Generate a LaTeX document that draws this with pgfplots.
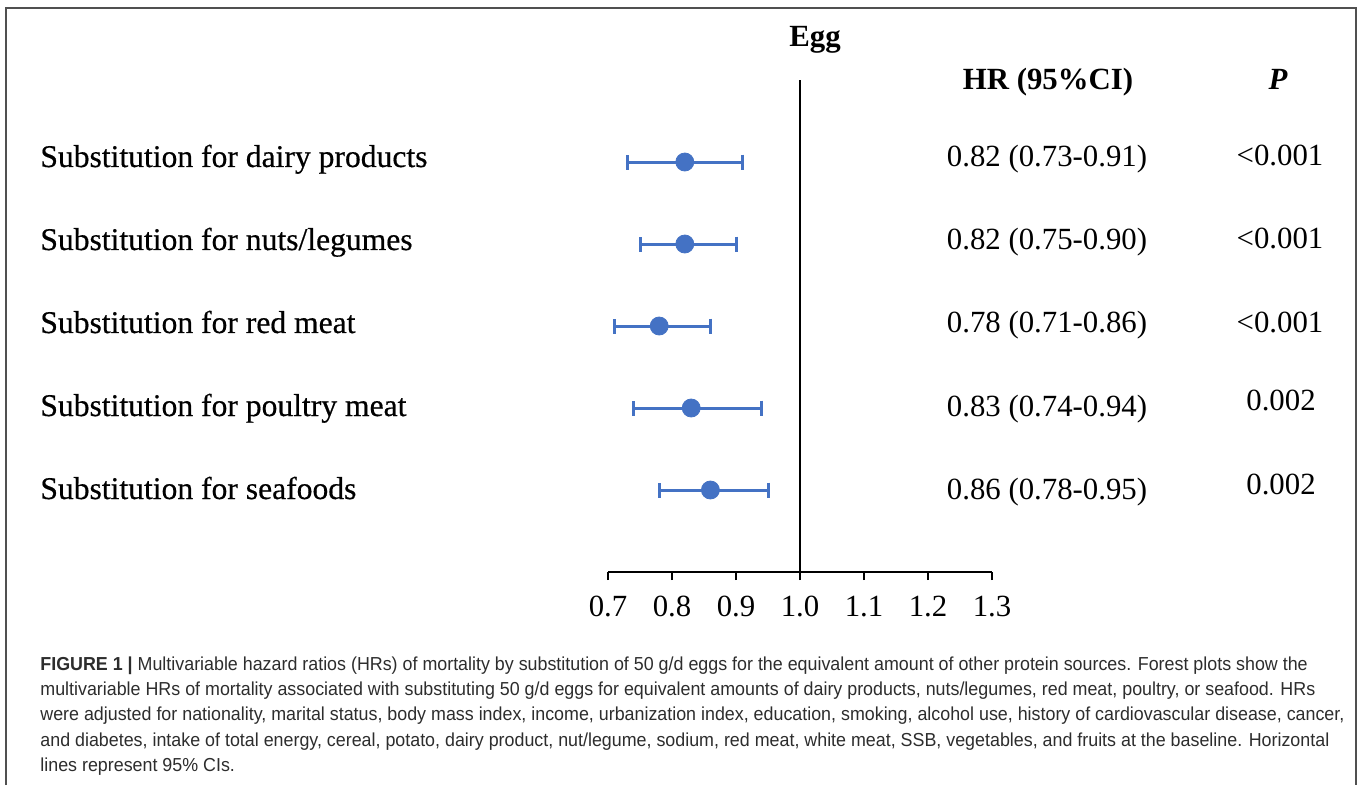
\documentclass[border=0pt]{standalone}
\usepackage{fontspec}
\setmainfont{Liberation Serif}
\newfontfamily\labfont[FakeBold=0.5]{Liberation Serif}
\newfontfamily\capfont[FakeStretch=0.95]{Liberation Sans}
\usepackage{pgfplots}
\pgfplotsset{compat=1.18}
\usepackage{pgfplotstable}
\definecolor{dotblue}{RGB}{68,114,196}
\definecolor{framegray}{RGB}{80,80,80}
\definecolor{capgray}{RGB}{45,45,45}

\pgfplotstableread{
row hr lo hi
5 0.82 0.73 0.91
4 0.82 0.75 0.90
3 0.78 0.71 0.86
2 0.83 0.74 0.94
1 0.86 0.78 0.95
}\hrdata

\newcommand{\fs}{\fontsize{15.4}{18}\selectfont}
\newcommand{\lfs}{\fontsize{15.8}{18}\selectfont}
\newcommand{\cfs}{\fontsize{9.4}{12}\selectfont}

\begin{document}
\begin{tikzpicture}[x=0.5pt,y=-0.5pt]
\path[fill=white] (0,0) rectangle (1360,785);
\draw[framegray, line width=1pt] (6,785) -- (6,8) -- (1356,8) -- (1356,785);

\begin{axis}[
  at={(304pt,-286pt)}, anchor=south west,
  scale only axis, width=192pt, height=246pt,
  xmin=0.7, xmax=1.3, ymin=0, ymax=6,
  clip=false,
  axis y line=none,
  axis x line*=bottom,
  axis line style={black, line width=1pt, -},
  xtick={0.7,0.8,0.9,1.0,1.1,1.2,1.3},
  ytick=\empty,
  tick align=outside,
  major tick length=4pt,
  tick style={black, line width=1pt},
  xticklabel style={font=\fs, yshift=-4.5pt},
  /pgf/number format/.cd, fixed, fixed zerofill, precision=1, assume math mode=true,
]
\draw[black, line width=1pt] (axis cs:1,0) -- (axis cs:1,6);
\addplot[only marks, mark=*, mark size=4.5pt, color=dotblue,
  error bars/.cd, x dir=both, x explicit, error mark=|,
  error bar style={line width=1.5pt, dotblue},
  error mark options={line width=1.5pt, mark size=3.75pt, dotblue}]
  table[x=hr, y=row,
        x error plus expr=\thisrow{hi}-\thisrow{hr},
        x error minus expr=\thisrow{hr}-\thisrow{lo}] {\hrdata};
\end{axis}

% headers
\node[anchor=base, inner sep=0, font=\bfseries\fs] at (815,47) {Egg};
\node[anchor=base, inner sep=0, font=\bfseries\fs] at (1048,90) {HR (95\%CI)};
\node[anchor=base, inner sep=0, font=\bfseries\itshape\fs] at (1278,90) {P};

% row labels
\node[anchor=base west, inner sep=0, font=\labfont\lfs] at (40,167) {Substitution for dairy products};
\node[anchor=base west, inner sep=0, font=\labfont\lfs] at (40,250) {Substitution for nuts/legumes};
\node[anchor=base west, inner sep=0, font=\labfont\lfs] at (40,333) {Substitution for red meat};
\node[anchor=base west, inner sep=0, font=\labfont\lfs] at (40,416) {Substitution for poultry meat};
\node[anchor=base west, inner sep=0, font=\labfont\lfs] at (40,499) {Substitution for seafoods};
% HR column
\node[anchor=base, inner sep=0, font=\fs] at (1047,167) {0.82 (0.73-0.91)};
\node[anchor=base, inner sep=0, font=\fs] at (1047,250) {0.82 (0.75-0.90)};
\node[anchor=base, inner sep=0, font=\fs] at (1047,333) {0.78 (0.71-0.86)};
\node[anchor=base, inner sep=0, font=\fs] at (1047,416) {0.83 (0.74-0.94)};
\node[anchor=base, inner sep=0, font=\fs] at (1047,499) {0.86 (0.78-0.95)};
% P column
\node[anchor=base, inner sep=0, font=\fs] at (1280,166) {<0.001};
\node[anchor=base, inner sep=0, font=\fs] at (1280,249) {<0.001};
\node[anchor=base, inner sep=0, font=\fs] at (1280,332) {<0.001};
\node[anchor=base, inner sep=0, font=\fs] at (1281,410) {0.002};
\node[anchor=base, inner sep=0, font=\fs] at (1281,494) {0.002};

% caption
\begin{scope}[every node/.style={anchor=base west, inner sep=0, font=\capfont\cfs, text=capgray}]
\node at (40,670) {\textbf{FIGURE 1 |} Multivariable hazard ratios (HRs) of mortality by substitution of 50 g/d eggs for the equivalent amount of other protein sources. Forest plots show the};
\node at (40,695) {multivariable HRs of mortality associated with substituting 50 g/d eggs for equivalent amounts of dairy products, nuts/legumes, red meat, poultry, or seafood. HRs};
\node at (40,720.5) {were adjusted for nationality, marital status, body mass index, income, urbanization index, education, smoking, alcohol use, history of cardiovascular disease, cancer,};
\node at (40,746) {and diabetes, intake of total energy, cereal, potato, dairy product, nut/legume, sodium, red meat, white meat, SSB, vegetables, and fruits at the baseline. Horizontal};
\node at (40,771) {lines represent 95\% CIs.};
\end{scope}
\end{tikzpicture}
\end{document}
